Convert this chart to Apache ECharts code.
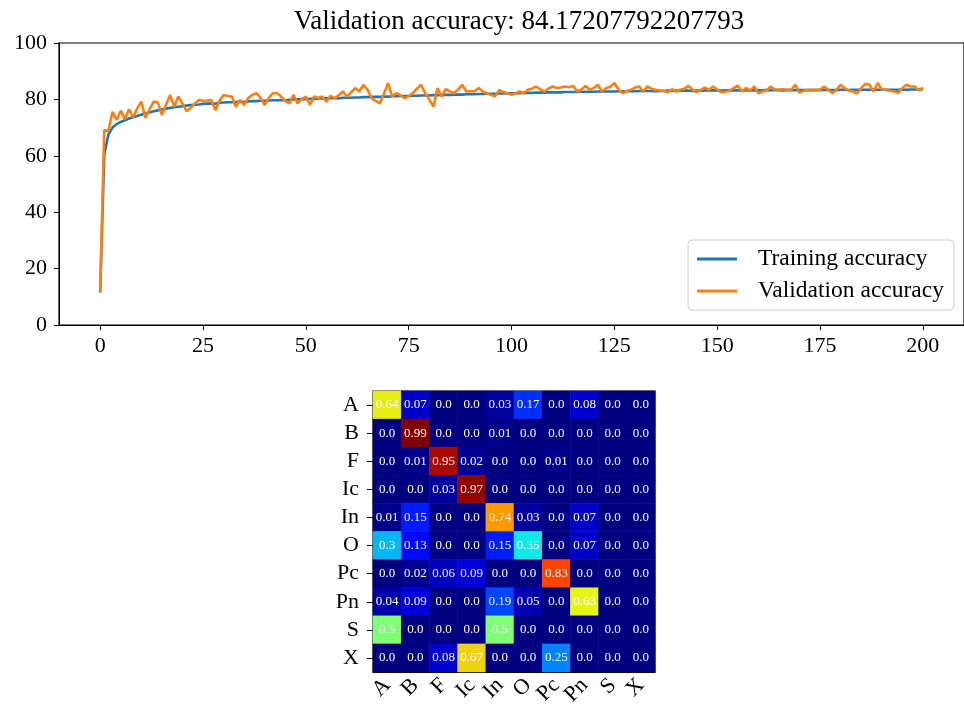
<!DOCTYPE html>
<html>
<head>
<meta charset="utf-8">
<script src="https://cdn.jsdelivr.net/npm/echarts@6/dist/echarts.min.js"></script>
<style>
    html, body { margin: 0; padding: 0; background: #fff; }
    #main { width: 964px; height: 715px; }
</style>
</head>
<body>
<div id="main"></div>
<script>
// accuracy per epoch (0..200)
var trainAcc = [
    11.5, 60.5, 67.5, 70.0, 71.2, 72.0, 72.6, 73.2, 73.7, 74.1,
    74.6, 75.0, 75.4, 75.8, 76.1, 76.4, 76.7, 77.0, 77.2, 77.4,
    77.6, 77.8, 78.0, 78.1, 78.2, 78.4, 78.5, 78.6, 78.5, 78.8,
    78.9, 79.0, 79.0, 79.1, 79.2, 79.1, 79.3, 79.4, 79.4, 79.5,
    79.5, 79.6, 79.7, 79.7, 79.8, 79.6, 79.9, 80.0, 80.0, 80.1,
    80.1, 80.2, 80.2, 80.3, 80.3, 80.4, 80.4, 80.5, 80.3, 80.6,
    80.6, 80.6, 80.7, 80.7, 80.8, 80.8, 80.9, 80.9, 80.9, 81.0,
    81.0, 81.1, 81.1, 81.2, 81.2, 81.2, 81.3, 81.3, 81.4, 81.4,
    81.4, 81.5, 81.5, 81.6, 81.6, 81.6, 81.7, 81.7, 81.7, 81.8,
    81.8, 81.8, 81.9, 81.9, 82.0, 82.0, 82.0, 82.1, 82.1, 82.1,
    82.2, 82.2, 82.2, 82.3, 82.3, 82.3, 82.4, 82.4, 82.4, 82.5,
    82.5, 82.5, 82.5, 82.6, 82.6, 82.6, 82.6, 82.7, 82.7, 82.7,
    82.7, 82.8, 82.8, 82.8, 82.8, 82.8, 82.9, 82.9, 82.9, 82.9,
    82.9, 83.0, 83.0, 83.0, 83.0, 82.9, 83.0, 83.0, 83.1, 83.1,
    83.1, 83.1, 83.1, 83.1, 83.0, 83.1, 83.1, 83.2, 83.2, 83.2,
    83.2, 83.1, 83.2, 83.2, 83.2, 83.2, 83.2, 83.2, 83.3, 83.2,
    83.2, 83.2, 83.3, 83.3, 83.3, 83.3, 83.2, 83.3, 83.3, 83.3,
    83.3, 83.3, 83.3, 83.3, 83.3, 83.3, 83.4, 83.3, 83.3, 83.3,
    83.4, 83.4, 83.3, 83.4, 83.4, 83.4, 83.4, 83.4, 83.4, 83.4,
    83.4, 83.4, 83.4, 83.4, 83.4, 83.5, 83.4, 83.5, 83.5, 83.5,
    83.5
];
var valAcc = [
    11.5, 69.1, 68.8, 75.6, 72.7, 76.0, 73.0, 76.5, 73.6, 76.8,
    79.2, 73.4, 76.5, 79.2, 79.0, 74.5, 78.0, 81.6, 77.4, 81.0,
    78.5, 75.8, 77.0, 78.5, 79.8, 79.5, 79.6, 79.8, 76.2, 79.5,
    81.6, 81.2, 81.0, 77.4, 79.8, 78.0, 80.5, 81.6, 82.2, 80.5,
    78.0, 80.5, 82.2, 82.2, 81.0, 79.5, 78.6, 81.6, 78.6, 80.0,
    81.0, 78.0, 81.0, 80.5, 81.0, 79.2, 81.3, 80.4, 81.5, 82.8,
    81.0, 82.5, 84.0, 82.8, 85.2, 83.4, 80.4, 79.5, 78.6, 82.0,
    85.8, 81.0, 82.2, 81.5, 80.4, 81.2, 82.2, 83.8, 85.2, 82.2,
    80.0, 77.4, 84.0, 81.0, 83.6, 82.8, 82.2, 83.5, 85.2, 82.8,
    83.0, 82.8, 84.0, 82.8, 82.2, 81.6, 81.0, 83.4, 82.6, 82.2,
    81.6, 82.2, 82.8, 82.2, 83.4, 83.8, 84.6, 83.5, 82.8, 83.8,
    84.6, 84.0, 84.2, 84.6, 84.3, 84.8, 82.8, 83.5, 84.8, 83.4,
    84.0, 85.2, 82.8, 84.0, 84.5, 85.8, 83.5, 82.2, 83.0, 83.4,
    84.2, 84.6, 82.8, 84.6, 83.8, 83.4, 83.2, 83.1, 82.5, 83.6,
    82.8, 83.4, 83.8, 84.8, 83.5, 82.5, 83.4, 84.2, 83.4, 84.6,
    83.5, 82.5, 82.8, 83.1, 84.0, 84.9, 82.8, 84.0, 83.1, 84.6,
    82.2, 82.8, 83.1, 84.6, 83.4, 83.5, 83.6, 83.4, 83.4, 85.2,
    82.4, 83.0, 83.4, 83.3, 83.4, 83.4, 84.6, 83.4, 82.2, 83.4,
    85.2, 84.0, 83.1, 82.8, 82.2, 84.0, 85.5, 85.2, 82.8, 85.8,
    83.6, 83.4, 83.1, 82.8, 82.4, 84.0, 85.2, 84.6, 84.6, 83.1,
    84.17
];
var xTicks = [0, 25, 50, 75, 100, 125, 150, 175, 200];

// confusion matrix (rows = true class, top to bottom)
var classes = ['A', 'B', 'F', 'Ic', 'In', 'O', 'Pc', 'Pn', 'S', 'X'];
var confusion = [
    [0.64, 0.07, 0.0, 0.0, 0.03, 0.17, 0.0, 0.08, 0.0, 0.0],
    [0.0, 0.99, 0.0, 0.0, 0.01, 0.0, 0.0, 0.0, 0.0, 0.0],
    [0.0, 0.01, 0.95, 0.02, 0.0, 0.0, 0.01, 0.0, 0.0, 0.0],
    [0.0, 0.0, 0.03, 0.97, 0.0, 0.0, 0.0, 0.0, 0.0, 0.0],
    [0.01, 0.15, 0.0, 0.0, 0.74, 0.03, 0.0, 0.07, 0.0, 0.0],
    [0.3, 0.13, 0.0, 0.0, 0.15, 0.35, 0.0, 0.07, 0.0, 0.0],
    [0.0, 0.02, 0.06, 0.09, 0.0, 0.0, 0.83, 0.0, 0.0, 0.0],
    [0.04, 0.09, 0.0, 0.0, 0.19, 0.05, 0.0, 0.63, 0.0, 0.0],
    [0.5, 0.0, 0.0, 0.0, 0.5, 0.0, 0.0, 0.0, 0.0, 0.0],
    [0.0, 0.0, 0.08, 0.67, 0.0, 0.0, 0.25, 0.0, 0.0, 0.0]
];

var serif = 'Liberation Serif';
var jet = ['#000080', '#0000ff', '#0080ff', '#14ffe2', '#7bff7b', '#e2ff14', '#ff9700', '#ff2100', '#800000'];

var trainData = trainAcc.map(function (v, i) { return [i, v]; });
var valData = valAcc.map(function (v, i) { return [i, v]; });
var cells = [];
confusion.forEach(function (row, r) {
    row.forEach(function (v, c) { cells.push([c, r, v]); });
});

var chart = echarts.init(document.getElementById('main'));

var option = {
    animation: false,
    backgroundColor: '#fff',
    textStyle: { fontFamily: serif, color: '#000' },
    title: {
        text: 'Validation accuracy: 84.17207792207793',
        left: 514,
        top: 3,
        textAlign: 'center',
        textStyle: { fontFamily: serif, fontSize: 27, fontWeight: 'normal', color: '#000' }
    },
    legend: {
        data: ['Training accuracy', 'Validation accuracy'],
        orient: 'vertical',
        left: 688,
        top: 240,
        icon: 'rect',
        itemWidth: 40,
        itemHeight: 3,
        itemGap: 6,
        padding: [6, 10, 6, 9],
        borderColor: '#ccc',
        borderWidth: 1,
        borderRadius: 4,
        backgroundColor: '#fff',
        textStyle: { fontFamily: serif, fontSize: 23.5, lineHeight: 26, color: '#000', padding: [0, 0, 0, 16] }
    },
    grid: [
        { left: 59, top: 43, width: 913, height: 282, show: true, borderColor: '#000', borderWidth: 1.2 },
        { left: 373, top: 391, width: 282, height: 281, show: true, borderColor: '#000', borderWidth: 1.2 }
    ],
    visualMap: {
        type: 'continuous',
        show: false,
        seriesIndex: 2,
        min: 0,
        max: 0.99,
        inRange: { color: jet }
    },
    xAxis: [
        {
            gridIndex: 0,
            type: 'value',
            min: -10,
            max: 210,
            splitLine: { show: false },
            axisLine: { onZero: false, lineStyle: { color: '#000' } },
            axisTick: { show: true, length: 5, customValues: xTicks, lineStyle: { color: '#000' } },
            axisLabel: { customValues: xTicks, fontFamily: serif, fontSize: 22, color: '#000', margin: 10 }
        },
        {
            gridIndex: 1,
            type: 'category',
            data: classes,
            axisLine: { lineStyle: { color: '#000' } },
            axisTick: { alignWithLabel: true, length: 6, lineStyle: { color: '#000' } },
            splitLine: { show: false },
            axisLabel: { rotate: 45, interval: 0, fontFamily: serif, fontSize: 22, color: '#000', margin: 10 }
        }
    ],
    yAxis: [
        {
            gridIndex: 0,
            type: 'value',
            min: 0,
            max: 100,
            interval: 20,
            splitLine: { show: false },
            axisLine: { show: true, onZero: false, lineStyle: { color: '#000' } },
            axisTick: { show: true, length: 5, lineStyle: { color: '#000' } },
            axisLabel: { fontFamily: serif, fontSize: 22, color: '#000', margin: 12 }
        },
        {
            gridIndex: 1,
            type: 'category',
            data: classes,
            inverse: true,
            axisLine: { show: true, lineStyle: { color: '#000' } },
            axisTick: { show: true, alignWithLabel: true, length: 6, lineStyle: { color: '#000' } },
            splitLine: { show: false },
            axisLabel: { interval: 0, fontFamily: serif, fontSize: 22, color: '#000', margin: 14 }
        }
    ],
    series: [
        {
            name: 'Training accuracy',
            type: 'line',
            xAxisIndex: 0,
            yAxisIndex: 0,
            symbol: 'none',
            data: trainData,
            color: '#1f77b4',
            lineStyle: { width: 2.6, color: '#1f77b4' },
            z: 2
        },
        {
            name: 'Validation accuracy',
            type: 'line',
            xAxisIndex: 0,
            yAxisIndex: 0,
            symbol: 'none',
            data: valData,
            color: '#ff7f0e',
            lineStyle: { width: 2.6, color: '#ff7f0e' },
            z: 3
        },
        {
            name: 'confusion',
            type: 'heatmap',
            xAxisIndex: 1,
            yAxisIndex: 1,
            data: cells,
            label: {
                show: true,
                color: '#fff',
                fontFamily: serif,
                fontSize: 13,
                formatter: function (p) {
                    var v = p.value[2];
                    return v === 0 ? '0.0' : String(v);
                }
            }
        }
    ]
};

chart.setOption(option);
</script>
</body>
</html>
